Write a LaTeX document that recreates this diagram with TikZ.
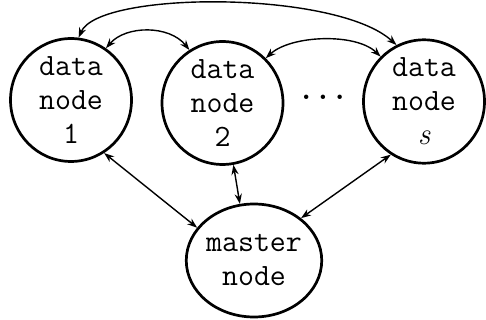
\documentclass[tikz,border=0pt]{standalone}
\usetikzlibrary{shapes.geometric,arrows.meta}
\begin{document}
\begin{tikzpicture}[x=0.5pt,y=-0.5pt,
  server/.style={ellipse,draw,line width=1.35pt,minimum width=60.5pt,minimum height=56.5pt,
    inner sep=0pt,align=center,font=\fontsize{15.5}{17}\ttfamily},
  link/.style={line width=0.7pt,{Stealth[length=5pt,width=3.6pt]}-{Stealth[length=5pt,width=3.6pt]}}]
  \useasboundingbox (0,0) rectangle (486,320);
  % data nodes and master node
  \node[server] (d1) at (71,100) {data\\node\\1};
  \node[server] (d2) at (222.5,103) {data\\node\\2};
  \node[server] (ds) at (424,101.5) {data\\node\\{\rmfamily\itshape s}};
  \node[server] (m) at (254,260.5) {master\\node};
  \node[font=\fontsize{16}{17}\ttfamily\bfseries,inner sep=0pt,anchor=base] (dots) at (323,100) {...};
  % links between data nodes
  \draw[link] (d1.83) .. controls +(20,-47) and +(-60,-55) .. (ds.116);
  \draw[link] (d1.56) .. controls +(20,-23) and +(-20,-25) .. (d2.122);
  \draw[link] (d2.46) .. controls +(25,-23) and +(-25,-24) .. (ds.134);
  % links to the master node
  \draw[link] (d1.-58) -- (m.150);
  \draw[link] (d2.-80) -- (m.104);
  \draw[link] (ds.-122) -- (m.42);
\end{tikzpicture}
\end{document}
